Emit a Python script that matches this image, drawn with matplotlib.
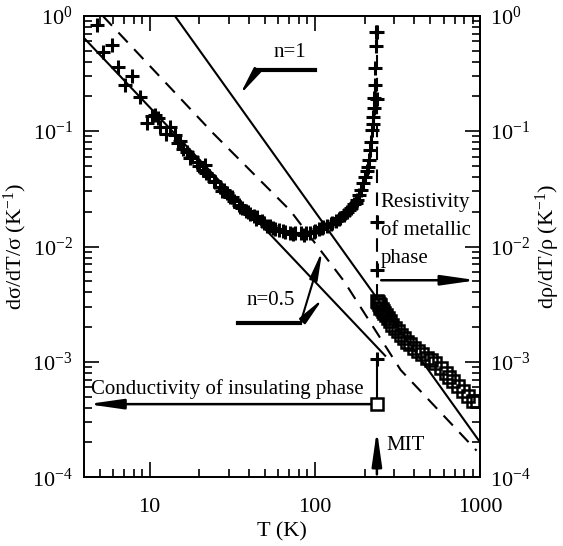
import numpy as np
import matplotlib.pyplot as plt
from matplotlib.ticker import NullFormatter

plt.rcParams['font.family'] = ['Liberation Serif', 'DejaVu Serif']
plt.rcParams['mathtext.fontset'] = 'custom'
plt.rcParams['mathtext.rm'] = 'Liberation Serif'
plt.rcParams['mathtext.it'] = 'Liberation Serif:italic'
plt.rcParams['mathtext.bf'] = 'Liberation Serif:bold'
plt.rcParams['axes.unicode_minus'] = False

# insulating phase, d(sigma)/dT/sigma
T_ins = [4.8, 5.2, 5.9, 6.4, 7.1, 7.8, 8.7, 9.6, 10.3, 10.8, 11.2, 11.6, 13.2,
         14.2, 15.3, 15.9, 16.8, 18.0, 19.3, 21.0, 21.5, 23.0, 24.5, 26.6, 28.0,
         29.4, 30.8, 32.5, 34.5, 36.4, 38.5, 40.5, 42.5, 44.6, 47.5, 51.4, 53.6,
         57.0, 61.0, 66.0, 70.9, 76.0, 82.0, 88.0, 93.7, 100, 106, 112, 119,
         126, 134, 141, 149, 157, 165, 173, 180, 186, 191, 196, 201, 206, 210,
         213, 216, 219, 222, 224, 226, 228, 229, 230, 232, 234, 235]
s_ins = [0.83, 0.49, 0.56, 0.36, 0.25, 0.30, 0.197, 0.117, 0.135, 0.137, 0.13,
         0.108, 0.108, 0.093, 0.083, 0.070, 0.066, 0.060, 0.054, 0.046, 0.051,
         0.041, 0.037, 0.0326, 0.031, 0.029, 0.0267, 0.025, 0.023, 0.0215,
         0.0205, 0.019, 0.0185, 0.0179, 0.0165, 0.0150, 0.0152, 0.0142, 0.0138,
         0.0134, 0.0132, 0.0131, 0.0130, 0.0131, 0.0132, 0.0136, 0.0142, 0.0147,
         0.0152, 0.0160, 0.0168, 0.0176, 0.0186, 0.0200, 0.0215, 0.0232, 0.0251,
         0.0280, 0.031, 0.0353, 0.040, 0.045, 0.0486, 0.056, 0.068, 0.080,
         0.102, 0.115, 0.132, 0.16, 0.194, 0.25, 0.353, 0.55, 0.726]

# scattered repeat run of the insulating phase
T_ins2 = [12.5, 14.8, 17.5, 20.0, 22.0, 25.0, 27.5, 31.5, 35.0, 39.5, 44.0,
          49.0, 56.0, 64.0, 74.0, 86.0, 98.0, 110, 125, 140, 160, 178]
s_ins2 = [0.095, 0.079, 0.058, 0.050, 0.043, 0.036, 0.030, 0.027, 0.022,
          0.020, 0.0172, 0.0160, 0.0145, 0.0136, 0.0128, 0.0127, 0.0134,
          0.0144, 0.0158, 0.0172, 0.0207, 0.0240]

# points measured at the transition
T_mit = [238, 238, 238, 238, 238]
s_mit = [0.72, 0.19, 0.0162, 0.0062, 1.05e-3]

# metallic phase, d(rho)/dT/rho
T_met = [236, 240, 243, 246, 249, 253, 257, 262, 268, 275, 283, 292, 303, 316,
         330, 346, 362, 378, 400, 422, 447, 475, 505, 536, 575, 617, 650, 689,
         735, 782, 840, 899, 950]
r_met = [3.4e-3, 3.3e-3, 3.2e-3, 3.1e-3, 2.95e-3, 2.85e-3, 2.75e-3, 2.65e-3,
         2.55e-3, 2.4e-3, 2.25e-3, 2.1e-3, 1.98e-3, 1.86e-3, 1.72e-3, 1.6e-3,
         1.5e-3, 1.43e-3, 1.32e-3, 1.24e-3, 1.17e-3, 1.08e-3, 1.03e-3, 9.8e-4,
         8.8e-4, 8.0e-4, 7.4e-4, 6.8e-4, 6.2e-4, 5.6e-4, 5.1e-4, 4.6e-4, 4.6e-4]

# fitted lines
T_fit1 = [14.2, 1000]
y_fit1 = [1.0, 2.0e-4]
T_fit05 = [4.0, 266]
y_fit05 = [0.644, 1.13e-3]
T_dash = [5.2, 24.2, 70.9, 150, 330, 950]
y_dash = [1.0, 0.096, 0.0205, 5.0e-3, 8.5e-4, 1.7e-4]

T_c = 238
T_sq = 237
y_sq = 4.3e-4

arrow = '-|>,head_length=1.4,head_width=0.2'

fig = plt.figure(figsize=(5.63, 5.46), dpi=100)
ax = fig.add_axes([0.149, 0.126, 0.704, 0.845])

ax.plot(T_fit1, y_fit1, 'k-', lw=1.5)
ax.plot(T_fit05, y_fit05, 'k-', lw=1.5)
ax.plot(T_dash, y_dash, 'k', lw=1.5, ls=(0, (6.5, 4.5)))
ax.plot([T_c, T_c], [0.72, 3.0e-3], 'k', lw=1.5, ls=(0, (6.5, 4.5)))

ax.plot(T_ins, s_ins, 'k+', ms=10, mew=2.2)
ax.plot(T_ins2, s_ins2, 'k+', ms=10, mew=2.2)
ax.plot(T_mit, s_mit, 'k+', ms=10, mew=2.2)
ax.plot(T_met, r_met, 'ks', ms=8.5, mew=1.8, mfc='none')

# insulating conductivity arrow + MIT marker
ax.plot([T_sq, T_sq], [y_sq, 1.05e-3], 'k-', lw=1.5)
ax.plot([T_sq], [y_sq], 'ks', ms=8.5, mew=1.8, mfc='white', zorder=5)
ax.annotate('', xy=(4.05, y_sq), xytext=(T_sq, y_sq),
            arrowprops=dict(arrowstyle=arrow, color='k', lw=1.8,
                            mutation_scale=15))
ax.text(4.4, 5.8e-4, 'Conductivity of insulating phase', fontsize=15,
        ha='left', va='center')
ax.annotate('', xy=(T_sq, 2.7e-4), xytext=(T_sq, 1e-4),
            arrowprops=dict(arrowstyle=arrow, color='k', lw=1.8,
                            mutation_scale=15))
ax.text(272, 1.9e-4, 'MIT', fontsize=15, ha='left', va='center')

# metallic resistivity arrow
ax.annotate('', xy=(990, 5.1e-3), xytext=(242, 5.1e-3),
            arrowprops=dict(arrowstyle=arrow, color='k', lw=1.8,
                            mutation_scale=15))
ax.text(250, 0.0241, 'Resistivity', fontsize=15, ha='left', va='center')
ax.text(250, 0.0138, 'of metallic', fontsize=15, ha='left', va='center')
ax.text(250, 0.0079, 'phase', fontsize=15, ha='left', va='center')

# n=1 label
ax.text(70.9, 0.477, 'n=1', fontsize=15, ha='center', va='center')
ax.plot([44.8, 100], [0.339, 0.339], 'k-', lw=3)
ax.annotate('', xy=(34.3, 0.197), xytext=(44.8, 0.339),
            arrowprops=dict(arrowstyle=arrow, color='k', lw=1.5,
                            mutation_scale=12))

# n=0.5 label
ax.text(53.7, 3.4e-3, 'n=0.5', fontsize=15, ha='center', va='center')
ax.plot([34.3, 81.6], [2.16e-3, 2.16e-3], 'k-', lw=3)
ax.annotate('', xy=(112, 9.7e-3), xytext=(81.6, 2.16e-3),
            arrowprops=dict(arrowstyle=arrow, color='k', lw=1.5,
                            mutation_scale=12))
ax.annotate('', xy=(115, 3.7e-3), xytext=(81.6, 2.16e-3),
            arrowprops=dict(arrowstyle=arrow, color='k', lw=1.5,
                            mutation_scale=12))

ax.set_xscale('log')
ax.set_yscale('log')
ax.set_xlim(4, 1000)
ax.set_ylim(1e-4, 1)
ax.set_xticks([10, 100, 1000])
ax.set_xticklabels(['10', '100', '1000'])
ax.xaxis.set_minor_formatter(NullFormatter())
ax.set_xlabel('T (K)', fontsize=16, labelpad=4)
ax.set_ylabel('dσ/dT/σ (K$^{-1}$)', fontsize=16, labelpad=2)
ax.tick_params(which='both', direction='in', top=True, right=False,
               labelsize=16, width=1.2)
ax.tick_params(which='major', length=11)
ax.tick_params(which='minor', length=5.5)
ax.tick_params(axis='x', pad=15)
ax.tick_params(axis='y', pad=8)

ax2 = ax.twinx()
ax2.set_yscale('log')
ax2.set_ylim(1e-4, 1)
ax2.set_ylabel('dρ/dT/ρ (K$^{-1}$)', fontsize=16, labelpad=2)
ax2.tick_params(which='both', direction='in', labelsize=16, width=1.2)
ax2.tick_params(which='major', length=11, pad=7)
ax2.tick_params(which='minor', length=5.5)

for a in (ax, ax2):
    for sp in a.spines.values():
        sp.set_linewidth(1.3)

fig.savefig('out.png', dpi=100)
